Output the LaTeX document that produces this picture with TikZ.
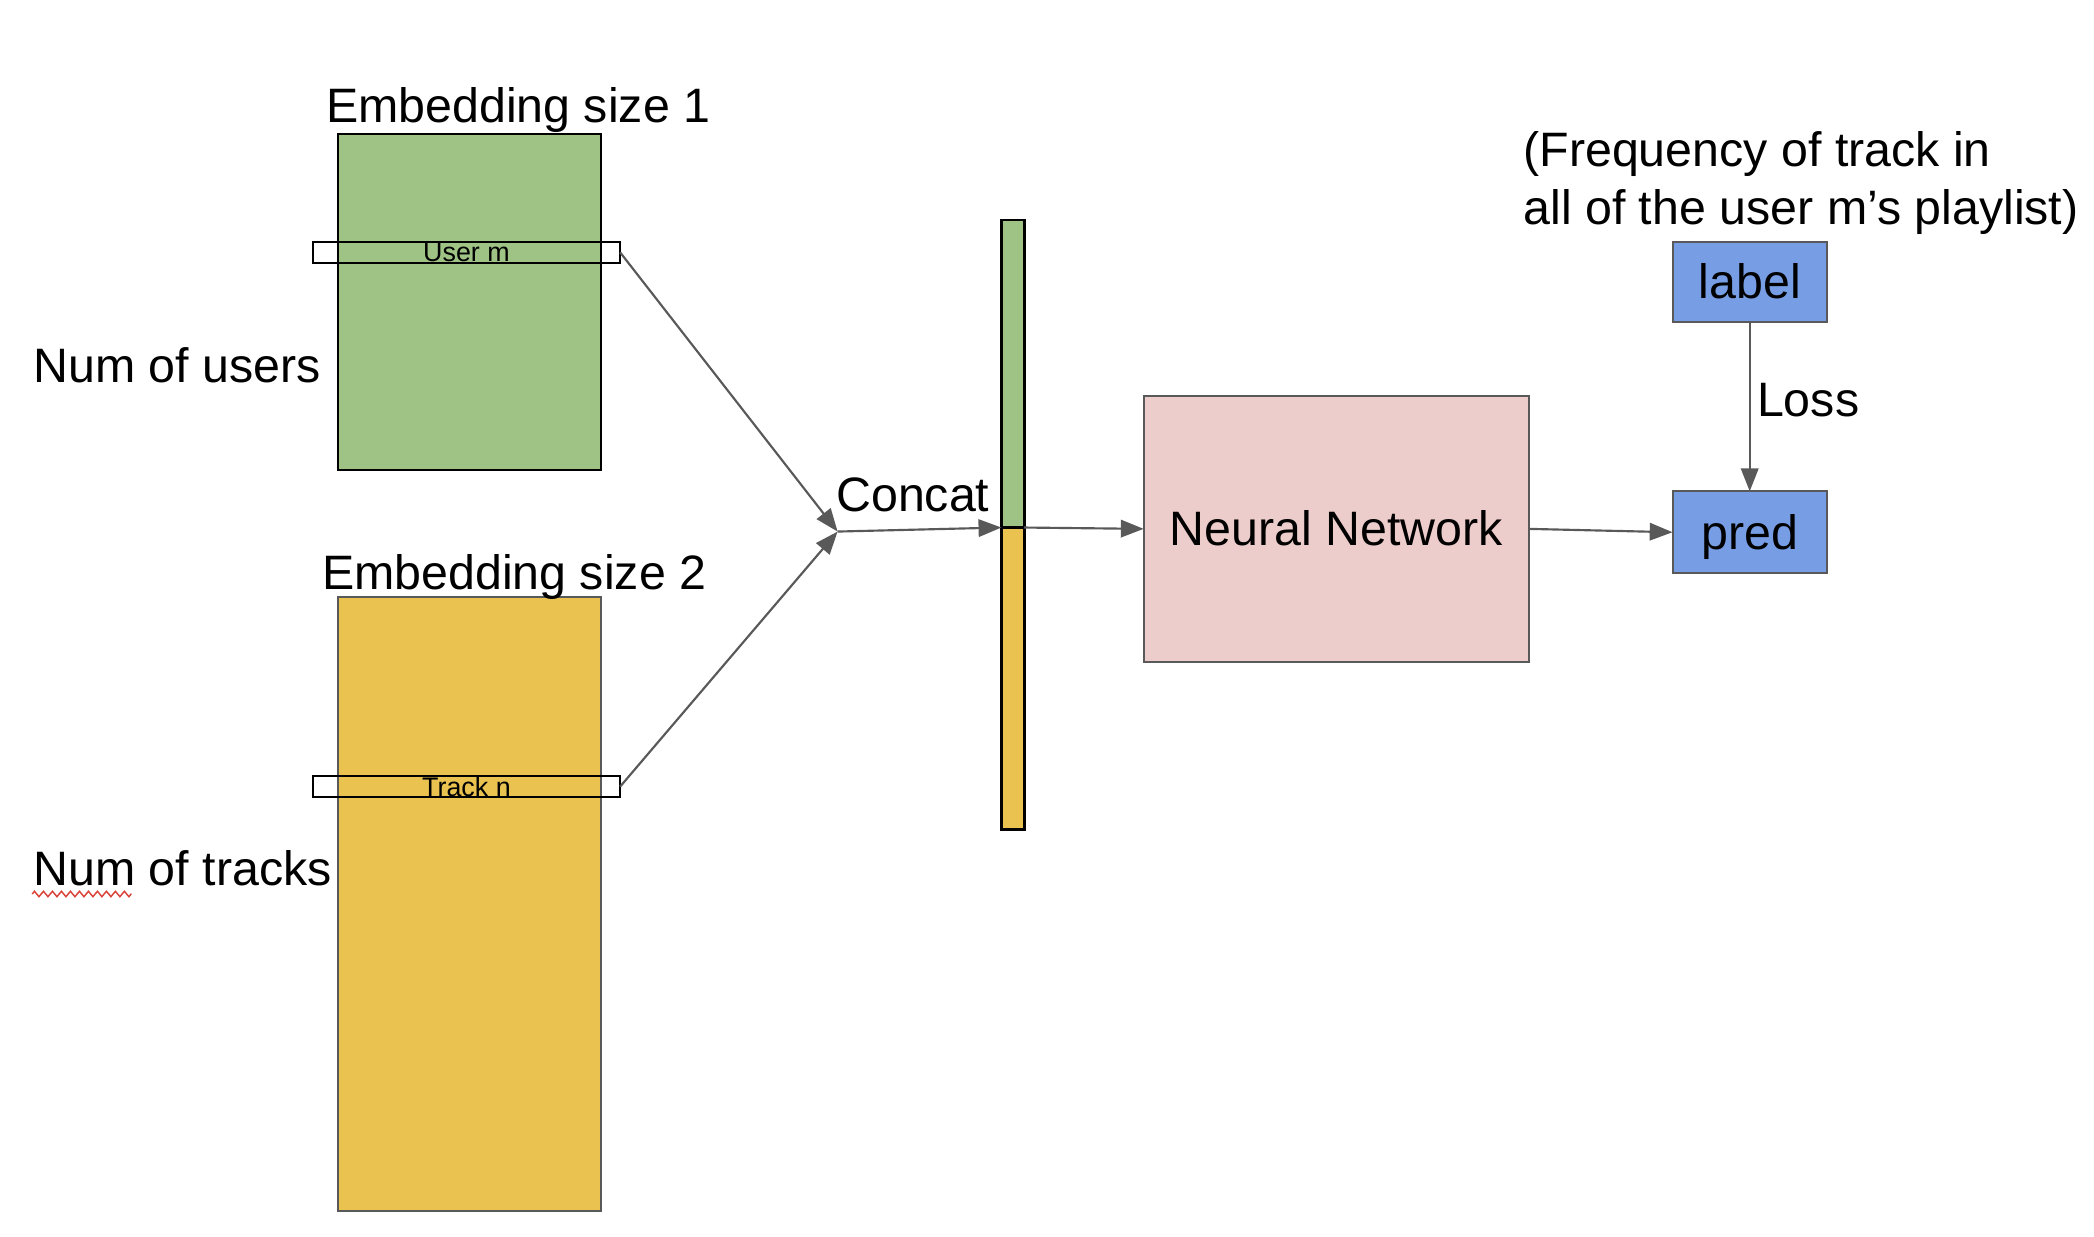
\documentclass[tikz,border=0pt]{standalone}
\usepackage{fontspec}
\setmainfont{Liberation Sans}
\usetikzlibrary{arrows.meta,decorations.pathmorphing}
\definecolor{embgreen}{HTML}{9EC385}
\definecolor{embyellow}{HTML}{E9C250}
\definecolor{nnpink}{HTML}{ECCDCB}
\definecolor{boxblue}{HTML}{779EE5}
\definecolor{linegray}{HTML}{595959}
\definecolor{spellred}{HTML}{D9443A}
\begin{document}
\begin{tikzpicture}[x=1pt,y=-1pt,
  txt/.style={inner sep=0pt, outer sep=0pt, font=\fontsize{36}{43}\selectfont},
  smalltxt/.style={font=\fontsize{20}{24}\selectfont},
  blk/.style={draw, line width=1.5pt, inner sep=0pt, outer sep=0pt, anchor=north west},
  boxtxt/.style={font=\fontsize{36}{43}\selectfont, text height=32.6pt, text depth=7.6pt},
  conn/.style={draw=linegray, line width=1.6pt, -{Triangle[length=17pt,width=13pt]}},
]
\useasboundingbox (0,0) rectangle (1560,921);

% embedding matrices
\node[blk, fill=embgreen, draw=black, minimum width=196pt, minimum height=250pt] (emb1) at (252,100) {};
\node[blk, fill=embyellow, draw=linegray, minimum width=196pt, minimum height=457pt] (emb2) at (252,445) {};

% selected rows
\node[blk, draw=black, smalltxt, minimum width=229pt, minimum height=16pt] (um) at (233,180) {User m};
\node[blk, draw=black, smalltxt, minimum width=229pt, minimum height=16pt] (tn) at (233,578) {Track n};

% texts
\node[txt, anchor=base west] (es1) at (243,91) {Embedding size 1};
\node[txt, anchor=base west] (es2) at (240,439) {Embedding size 2};
\node[txt, anchor=base west] (nusers) at (25,285) {Num of users};
\node[txt, anchor=base west] (ntracks) at (25,660) {Num of tracks};
\draw[spellred, line width=1.1pt, decorate, decoration={zigzag, segment length=6.7pt, amplitude=2pt}]
  ([yshift=-6pt, xshift=-1pt]ntracks.base west) -- ([yshift=-6pt, xshift=73pt]ntracks.base west);
\node[txt, anchor=base west] (concat) at (623,381) {Concat};

% concatenated vector
\node[blk, fill=embgreen, draw=black, line width=2pt, minimum width=17pt, minimum height=229pt] (vecg) at (746,164) {};
\node[blk, fill=embyellow, draw=black, line width=2pt, minimum width=17pt, minimum height=225pt] (vecy) at (746,393) {};

% neural network
\node[blk, fill=nnpink, draw=linegray, boxtxt, minimum width=287pt, minimum height=198pt] (nn) at (852,295) {Neural Network};

% label / pred
\node[blk, fill=boxblue, draw=linegray, boxtxt, minimum width=115pt, minimum height=60pt] (label) at (1246,180) {label};
\node[blk, fill=boxblue, draw=linegray, boxtxt, minimum width=115pt, minimum height=61pt] (pred) at (1246,366) {pred};
\node[txt, anchor=base west] (freq1) at (1135,124) {(Frequency of track in};
\node[txt, anchor=base west] (freq2) at (1135,167) {all of the user m’s playlist)};
\node[txt, anchor=base west] (loss) at (1309,310) {Loss};

% connectors
\coordinate (cj) at (624,396);
\draw[conn] (um.east) -- (cj);
\draw[conn] (tn.east) -- (cj);
\draw[conn] (cj) -- (vecg.south west);
\draw[conn] (vecg.south east) -- (nn.west);
\draw[conn] (nn.east) -- (pred.west);
\draw[conn] (label.south) -- (pred.north);
\end{tikzpicture}
\end{document}
